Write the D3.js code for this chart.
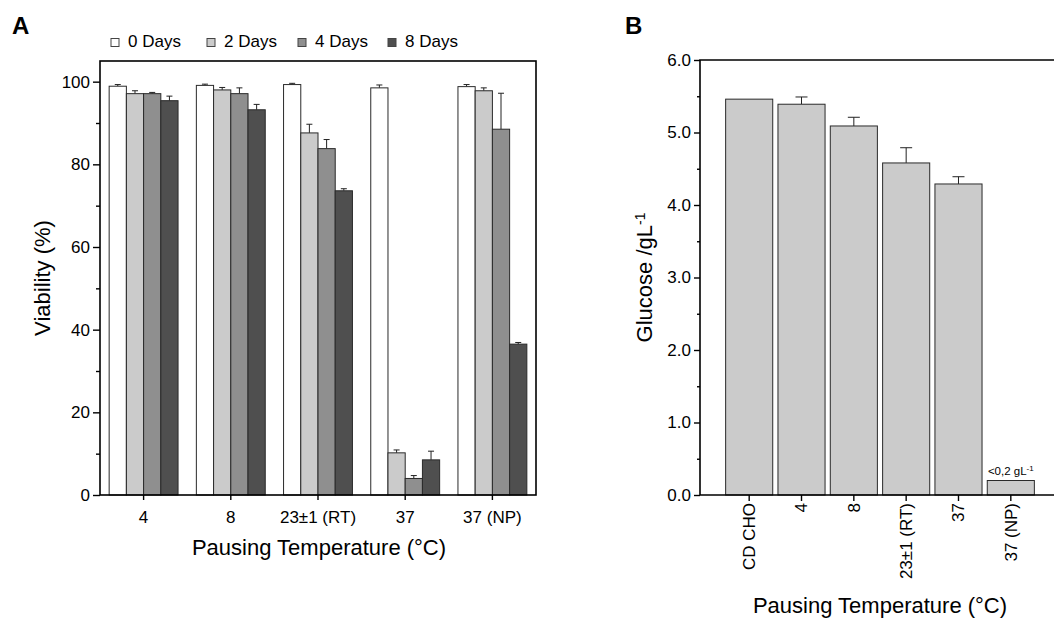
<!DOCTYPE html>
<html>
<head>
<meta charset="utf-8">
<script src="https://cdn.jsdelivr.net/npm/d3@7"></script>
<style>
  html, body { margin: 0; padding: 0; background: #fff; }
  svg { display: block; font-family: "Liberation Sans", Arial, Helvetica, sans-serif; }
</style>
</head>
<body>
<svg id="fig" width="1054" height="620"></svg>
<script>
// ---- Panel A: viability after pausing ----
const temps = ["4", "8", "23±1 (RT)", "37", "37 (NP)"];
const dayLabels = ["0 Days", "2 Days", "4 Days", "8 Days"];
const dayColors = ["#ffffff", "#cbcbcb", "#8f8f8f", "#4f4f4f"];
const viab0 = [98.9, 99.1, 99.3, 98.5, 98.8];
const viab2 = [97.1, 98.0, 87.6, 10.2, 97.8];
const viab4 = [97.1, 97.1, 83.8, 4.0, 88.5];
const viab8 = [95.4, 93.2, 73.6, 8.5, 36.5];
const err0 = [0.4, 0.3, 0.3, 0.7, 0.5];
const err2 = [0.7, 0.6, 2.1, 0.7, 0.7];
const err4 = [0.3, 1.4, 2.2, 0.7, 8.7];
const err8 = [1.1, 1.3, 0.5, 2.1, 0.4];
const viabTicks = [0, 20, 40, 60, 80, 100];
const viabMinor = [10, 30, 50, 70, 90];

// ---- Panel B: residual glucose ----
const glucoseCats = ["CD CHO", "4", "8", "23±1 (RT)", "37", "37 (NP)"];
const glucose = [5.46, 5.39, 5.09, 4.58, 4.29, 0.2];
const glucoseErr = [0, 0.1, 0.12, 0.21, 0.1, 0];
const glucoseTicks = [0, 1, 2, 3, 4, 5, 6];
const glucoseMinor = [0.5, 1.5, 2.5, 3.5, 4.5, 5.5];

const svg = d3.select("#fig");
const font = 17;

// ================= Panel A =================
const A = { left: 100, right: 536, top: 61, bottom: 495 };
const xA = d3.scaleBand().domain(temps).range([A.left, A.right])
  .paddingInner(0.21).paddingOuter(0.105);
const xAi = d3.scaleBand().domain(dayLabels).range([0, xA.bandwidth()]);
const yA = d3.scaleLinear().domain([0, 105]).range([A.bottom, A.top]);

const seriesA = dayLabels.map((d, i) => ({
  key: d, color: dayColors[i],
  vals: [viab0, viab2, viab4, viab8][i],
  errs: [err0, err2, err4, err8][i]
}));

const gA = svg.append("g");
const barsA = [];
seriesA.forEach(s => temps.forEach((t, j) => barsA.push({ t, key: s.key, color: s.color, v: s.vals[j], e: s.errs[j] })));

// error bars (upper only)
const ebA = gA.append("g").attr("stroke", "#222").attr("stroke-width", 1);
barsA.forEach(b => {
  const cx = xA(b.t) + xAi(b.key) + xAi.bandwidth() / 2;
  ebA.append("line").attr("x1", cx).attr("x2", cx).attr("y1", yA(b.v)).attr("y2", yA(b.v + b.e));
  ebA.append("line").attr("x1", cx - 3).attr("x2", cx + 3).attr("y1", yA(b.v + b.e)).attr("y2", yA(b.v + b.e));
});

gA.append("g").selectAll("rect").data(barsA).join("rect")
  .attr("x", d => xA(d.t) + xAi(d.key))
  .attr("y", d => yA(d.v))
  .attr("width", xAi.bandwidth())
  .attr("height", d => yA(0) - yA(d.v))
  .attr("fill", d => d.color)
  .attr("stroke", "#2a2a2a")
  .attr("stroke-width", 1);

// frame
gA.append("rect").attr("x", A.left).attr("y", A.top)
  .attr("width", A.right - A.left).attr("height", A.bottom - A.top)
  .attr("fill", "none").attr("stroke", "#000").attr("stroke-width", 1.6);

// axes
const axA_y = gA.append("g").attr("transform", `translate(${A.left},0)`)
  .call(d3.axisLeft(yA).tickValues(viabTicks).tickSize(7).tickPadding(3).tickFormat(d3.format("d")));
gA.append("g").attr("transform", `translate(${A.left},0)`)
  .call(d3.axisLeft(yA).tickValues(viabMinor).tickSize(4).tickFormat(""));
const axA_x = gA.append("g").attr("transform", `translate(0,${A.bottom})`)
  .call(d3.axisBottom(xA).tickSize(5).tickPadding(11));

gA.append("text").attr("x", 319).attr("y", 555).attr("text-anchor", "middle")
  .attr("font-size", 22).text("Pausing Temperature (°C)");
gA.append("text").attr("transform", `translate(50,${(A.top + A.bottom) / 2}) rotate(-90)`)
  .attr("text-anchor", "middle").attr("font-size", 22).text("Viability (%)");

// legend
const legendOffsets = [111, 207, 298, 388];
const lg = gA.append("g");
seriesA.forEach((s, i) => {
  const x = legendOffsets[i];
  lg.append("rect").attr("x", x).attr("y", 38.5).attr("width", 8).attr("height", 8)
    .attr("fill", s.color).attr("stroke", "#444").attr("stroke-width", 1);
  lg.append("text").attr("x", x + 17).attr("y", 47).attr("font-size", font).text(s.key);
});

svg.append("text").attr("x", 12).attr("y", 34).attr("font-size", 24)
  .attr("font-weight", "bold").text("A");

// ================= Panel B =================
const B = { left: 700, right: 1060, top: 60, bottom: 495 };
const xB = d3.scaleBand().domain(glucoseCats).range([B.left, B.right])
  .paddingInner(0.1).paddingOuter(0.49);
const yB = d3.scaleLinear().domain([0, 6]).range([B.bottom, B.top]);

const gB = svg.append("g");
const ebB = gB.append("g").attr("stroke", "#222").attr("stroke-width", 1);
glucoseCats.forEach((c, i) => {
  if (glucoseErr[i] <= 0) return;
  const cx = xB(c) + xB.bandwidth() / 2;
  const top = yB(glucose[i] + glucoseErr[i]);
  ebB.append("line").attr("x1", cx).attr("x2", cx).attr("y1", yB(glucose[i])).attr("y2", top);
  ebB.append("line").attr("x1", cx - 6).attr("x2", cx + 6).attr("y1", top).attr("y2", top);
});

gB.append("g").selectAll("rect").data(glucoseCats).join("rect")
  .attr("x", d => xB(d))
  .attr("y", (d, i) => yB(glucose[i]))
  .attr("width", xB.bandwidth())
  .attr("height", (d, i) => yB(0) - yB(glucose[i]))
  .attr("fill", "#cbcbcb")
  .attr("stroke", "#2a2a2a")
  .attr("stroke-width", 1);

// frame: top, left and bottom lines
gB.append("path")
  .attr("d", `M${B.right},${B.top}H${B.left}V${B.bottom}H${B.right}`)
  .attr("fill", "none").attr("stroke", "#000").attr("stroke-width", 1.6);

gB.append("g").attr("transform", `translate(${B.left},0)`)
  .call(d3.axisLeft(yB).tickValues(glucoseTicks).tickSize(6).tickPadding(3).tickFormat(d3.format(".1f")));
gB.append("g").attr("transform", `translate(${B.left},0)`)
  .call(d3.axisLeft(yB).tickValues(glucoseMinor).tickSize(3).tickFormat(""));
const axB_x = gB.append("g").attr("transform", `translate(0,${B.bottom})`)
  .call(d3.axisBottom(xB).tickSize(6).tickPadding(3));
axB_x.selectAll("text")
  .attr("transform", "rotate(-90)")
  .attr("x", -8).attr("y", 0).attr("dy", "0.35em")
  .style("text-anchor", "end");

// value note above the 37 (NP) bar
const npIdx = glucoseCats.indexOf("37 (NP)");
const note = gB.append("text")
  .attr("x", xB("37 (NP)") + xB.bandwidth() / 2)
  .attr("y", yB(glucose[npIdx]) - 6)
  .attr("text-anchor", "middle").attr("font-size", 11.5);
note.append("tspan").text("<" + String(glucose[npIdx]).replace(".", ",") + " gL");
note.append("tspan").attr("dy", "-0.45em").attr("font-size", 8).text("-1");

gB.append("text").attr("x", 880).attr("y", 613).attr("text-anchor", "middle")
  .attr("font-size", 22).text("Pausing Temperature (°C)");
const yTitleB = gB.append("text")
  .attr("transform", `translate(652,${(B.top + B.bottom) / 2}) rotate(-90)`)
  .attr("text-anchor", "middle").attr("font-size", 22);
yTitleB.append("tspan").text("Glucose /gL");
yTitleB.append("tspan").attr("dy", "-0.5em").attr("font-size", 14).text("-1");

svg.append("text").attr("x", 625).attr("y", 34).attr("font-size", 24)
  .attr("font-weight", "bold").text("B");

// common axis styling
svg.selectAll(".domain").remove();
svg.selectAll(".tick line").attr("stroke", "#000").attr("stroke-width", 1.4);
svg.selectAll(".tick text").attr("font-size", font).attr("fill", "#000")
  .attr("font-family", "'Liberation Sans', Arial, sans-serif");
</script>
</body>
</html>
